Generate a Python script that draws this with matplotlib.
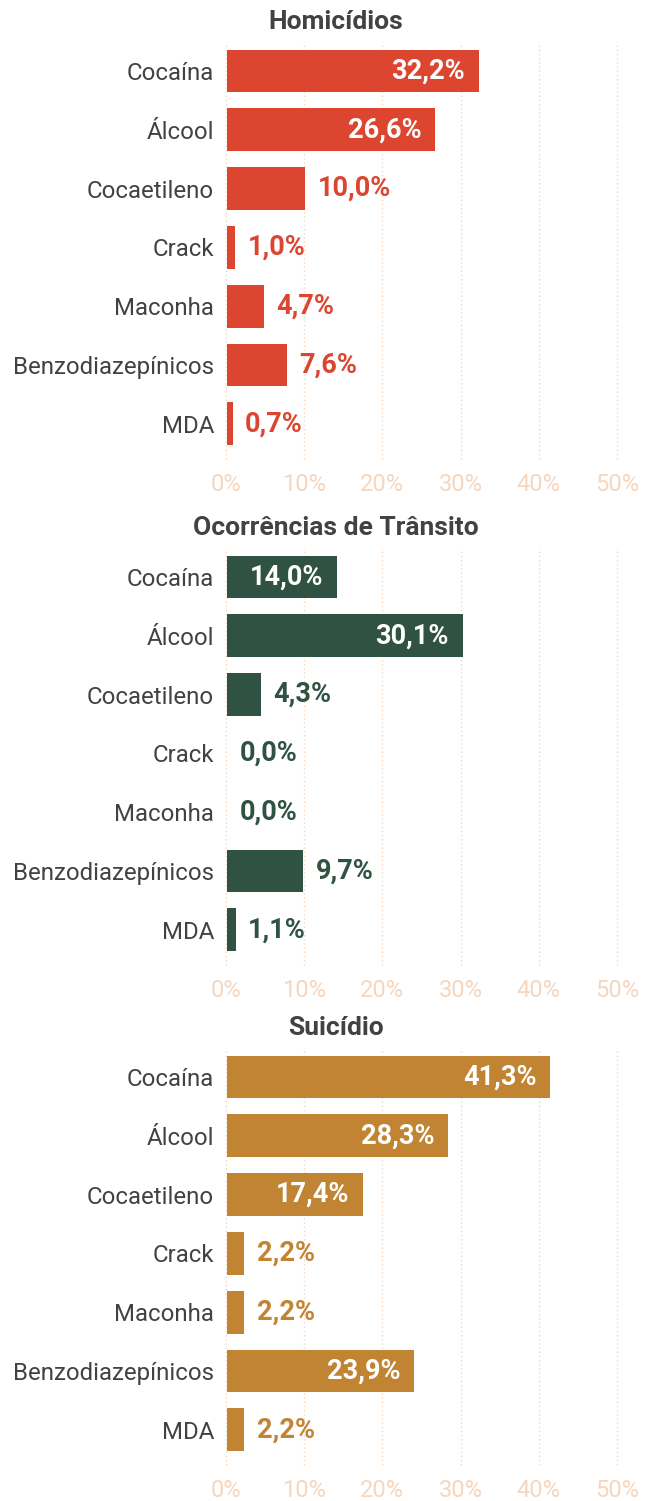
import matplotlib
matplotlib.use("Agg")
import matplotlib.pyplot as plt

plt.rcParams['font.family'] = ['Roboto', 'DejaVu Sans']

categories = ["Cocaína", "Álcool", "Cocaetileno", "Crack", "Maconha",
              "Benzodiazepínicos", "MDA"]
panel_titles = ["Homicídios", "Ocorrências de Trânsito", "Suicídio"]
homicidios = [32.2, 26.6, 10.0, 1.0, 4.7, 7.6, 0.7]
transito = [14.0, 30.1, 4.3, 0.0, 0.0, 9.7, 1.1]
suicidio = [41.3, 28.3, 17.4, 2.2, 2.2, 23.9, 2.2]
series = [homicidios, transito, suicidio]
colors = ["#DC4631", "#2F5242", "#C08432"]
x_ticks = [0, 10, 20, 30, 40, 50]
x_tick_labels = ["0%", "10%", "20%", "30%", "40%", "50%"]

W, H = 654, 1501
fig = plt.figure(figsize=(W / 100, H / 100), dpi=100)
fig.patch.set_facecolor("white")

row_h = 58.8
first_centers = [71, 577, 1077]
title_y = [22, 528, 1028]
ax_left, ax_right = 226, 617
text_dark = "#444240"
tick_color = "#F6D6BD"
grid_color = "#F6D6BD"

for vals, col, title, c0, ty in zip(series, colors, panel_titles,
                                     first_centers, title_y):
    top = c0 - 0.5 * row_h
    height = 7.1 * row_h
    ax = fig.add_axes([ax_left / W, 1 - (top + height) / H,
                       (ax_right - ax_left) / W, height / H])
    ax.set_xlim(0, 50)
    ax.set_ylim(6.6, -0.5)
    for s in ax.spines.values():
        s.set_visible(False)
    for t in x_ticks:
        ax.axvline(t, color=grid_color, lw=1.0, ls=(0, (1, 2)), zorder=0,
                   clip_on=False)
    ypos = list(range(len(categories)))
    ax.barh(ypos, vals, left=0.15, height=0.73, color=col, zorder=2)
    ax.set_yticks(ypos)
    ax.set_yticklabels(categories, fontsize=17.3, color=text_dark)
    ax.tick_params(axis="y", length=0, pad=8.5)
    ax.set_xticks(x_ticks)
    ax.set_xticklabels(x_tick_labels, fontsize=17, color=tick_color)
    ax.tick_params(axis="x", length=0, pad=10)
    for y, v in zip(ypos, vals):
        lab = f"{v:.1f}%".replace(".", ",")
        if v >= 12:
            ax.annotate(lab, (v + 0.15, y), xytext=(-10, 0),
                        textcoords="offset points", ha="right", va="center",
                        fontsize=19.5, fontweight="bold", color="white")
        else:
            ax.annotate(lab, (v + 0.15, y), xytext=(9, 0),
                        textcoords="offset points", ha="left", va="center",
                        fontsize=19.5, fontweight="bold", color=col)
    fig.text(336 / W, 1 - ty / H, title, ha="center", va="center",
             fontsize=19, fontweight="bold", color=text_dark)

fig.savefig("out.png", dpi=100, facecolor="white")
